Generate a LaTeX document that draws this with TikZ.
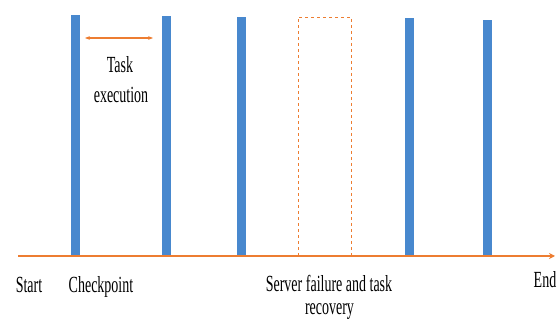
\documentclass[tikz,border=0pt]{standalone}
\usepackage{fontspec}
\setmainfont{Liberation Serif}
\usetikzlibrary{arrows.meta}

\definecolor{ckblue}{RGB}{72,136,206}
\definecolor{lineorange}{RGB}{237,125,49}
\newcommand{\tall}[1]{\scalebox{1}[1.65]{#1}}

\tikzset{
    ckbar/.style={fill=ckblue, draw=none},
    lbl/.style={font=\fontsize{14}{16}\selectfont, inner sep=0pt, anchor=base},
}

\begin{document}
\begin{tikzpicture}[x=1pt, y=1pt]
    \useasboundingbox (0,0) rectangle (558,324);

    % checkpoints
    \foreach \xa/\h in {71/309, 162/308, 237/307, 405/306, 483/304}
        \fill[ckbar] (\xa,68) rectangle (\xa+9,\h);

    % failure window
    \draw[lineorange, dashed, line width=0.7pt] (298,68) rectangle (351,307);

    % time axis
    \coordinate (t0) at (18,68);
    \coordinate (t1) at (555,68);
    \draw[lineorange, line width=2pt, -{Stealth[length=6pt, width=6pt]}] (t0) -- (t1);

    % task execution
    \coordinate (a0) at (85,286);
    \coordinate (a1) at (153,286);
    \draw[lineorange, line width=1.2pt, {Stealth[length=5pt]}-{Stealth[length=5pt]}] (a0) -- (a1);
    \node[lbl] (task) at (120,251) {\tall{Task}};
    \node[lbl] (exec) at (121,221) {\tall{execution}};

    % labels under the axis
    \node[lbl] (start) at (29,31) {\tall{Start}};
    \node[lbl] (ckpt) at (101,31) {\tall{Checkpoint}};
    \node[lbl] (fail) at (329,32) {\tall{Server failure and task}};
    \node[lbl] (recov) at (329.5,9) {\tall{recovery}};
    \node[lbl] (end) at (545,36) {\tall{End}};
\end{tikzpicture}
\end{document}
